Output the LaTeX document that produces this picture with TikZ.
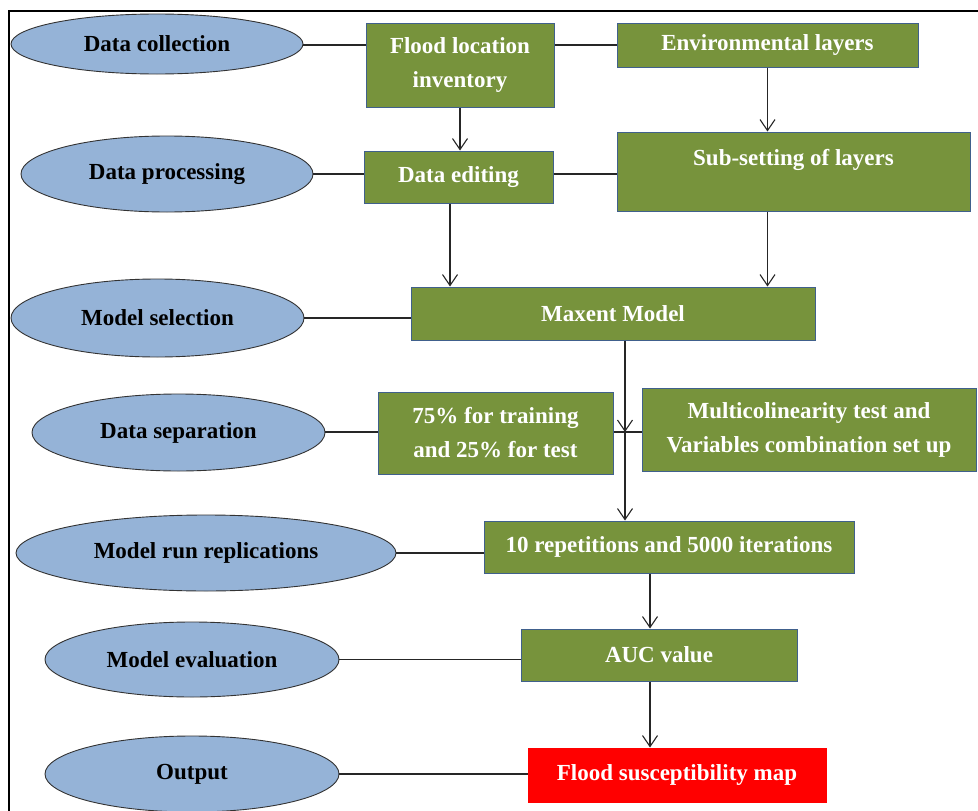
\documentclass[tikz,border=0pt]{standalone}
\usepackage{fontspec}
\setmainfont{Liberation Serif}
\usetikzlibrary{shapes.geometric,arrows.meta}
\definecolor{ellblue}{RGB}{149,179,215}
\definecolor{boxgreen}{RGB}{119,147,60}
\definecolor{boxedge}{RGB}{64,96,140}
\definecolor{mapred}{RGB}{255,0,0}
\tikzset{
  ell/.style={ellipse, draw=black!80, line width=0.9pt, fill=ellblue, inner sep=0pt,
    font=\fontsize{23}{34}\selectfont\bfseries, text=black},
  gbox/.style={rectangle, draw=boxedge, line width=1pt, fill=boxgreen, inner sep=0pt,
    font=\fontsize{23}{34}\selectfont\bfseries, text=white, align=center},
  rbox/.style={gbox, fill=mapred, draw=mapred},
  txt/.style={font=\fontsize{23}{34}\selectfont\bfseries, text=white, align=center, inner sep=0pt},
  conn/.style={line width=1.1pt, draw=black!85},
  arr/.style={conn, -{Straight Barb[length=11pt,width=15pt,line width=1.1pt]}},
}
\begin{document}
\begin{tikzpicture}[x=1pt,y=-1pt]
\useasboundingbox (0,0) rectangle (978,811);
\fill[white] (0,0) rectangle (978,811);
% frame
\draw[line width=2pt] (9,811) -- (9,11) -- (978,11);

% ellipses
\node[ell, minimum width=292, minimum height=60] (dc) at (157,44) {Data collection};
\node[ell, minimum width=292, minimum height=76] (dp) at (167,174) {Data processing};
\node[ell, minimum width=293, minimum height=78] (ms) at (157.5,318) {Model selection};
\node[ell, minimum width=293, minimum height=77] (ds) at (178.5,432.5) {Data separation};
\node[ell, minimum width=380, minimum height=76] (mr) at (206,553) {Model run replications};
\node[ell, minimum width=294, minimum height=75] (me) at (192,659.5) {Model evaluation};
\node[ell, minimum width=294, minimum height=76] (out) at (192,774) {Output};

% boxes
\node[gbox, minimum width=188, minimum height=84] (fli) at (460,65) {Flood location\\inventory};
\node[gbox, minimum width=301, minimum height=44] (env) at (767.5,45) {Environmental layers};
\node[gbox, minimum width=189, minimum height=52] (de) at (458.5,177) {Data editing};
\node[gbox, minimum width=353, minimum height=79] (sub) at (793.5,171.5) {};
\node[txt] (subt) at (793.5,160) {Sub-setting of layers};
\node[gbox, minimum width=404, minimum height=53] (mm) at (613,313.5) {Maxent Model};
\node[gbox, minimum width=235, minimum height=82] (pct) at (495.5,433) {75\% for training\\and 25\% for test};
\node[gbox, minimum width=334, minimum height=83] (mul) at (809,429.5) {Multicolinearity test and\\Variables combination set up};
\node[gbox, minimum width=370, minimum height=52] (rep) at (669,547) {10 repetitions and 5000 iterations};
\node[gbox, minimum width=276, minimum height=52] (auc) at (659,655) {AUC value};
\node[rbox, minimum width=298, minimum height=54] (map) at (677,775) {Flood susceptibility map};

% helper coordinates
\coordinate (jn) at (625,432);
\coordinate (ax) at (650,0);
\coordinate (dx) at (450,0);
\coordinate (l1) at (0,45);
\coordinate (l2) at (0,174);

% horizontal links
\draw[conn] (dc.east |- l1) -- (fli.west |- l1);
\draw[conn] (fli.east |- l1) -- (env.west |- l1);
\draw[conn] (dp.east) -- (de.west |- dp.east);
\draw[conn] (de.east |- l2) -- (sub.west |- l2);
\draw[conn] (ms.east) -- (mm.west |- ms.east);
\draw[conn] (ds.east |- jn) -- (pct.west |- jn);
\draw[conn] (pct.east |- jn) -- (mul.west |- jn);
\draw[conn] (mr.east) -- (rep.west |- mr.east);
\draw[conn] (me.east) -- (auc.west |- me.east);
\draw[conn] (out.east) -- (map.west |- out.east);

% arrows
\draw[arr] (fli.south) -- (fli.south |- de.north);
\draw[arr] (env.south) -- (env.south |- sub.north);
\draw[arr] (de.south -| dx) -- (mm.north -| dx);
\draw[arr] (env.south |- sub.south) -- (env.south |- mm.north);
\draw[arr] (mm.south -| jn) -- (jn);
\draw[arr] (jn) -- (rep.north -| jn);
\draw[arr] (rep.south -| ax) -- (auc.north -| ax);
\draw[arr] (auc.south -| ax) -- (map.north -| ax);
\end{tikzpicture}
\end{document}
